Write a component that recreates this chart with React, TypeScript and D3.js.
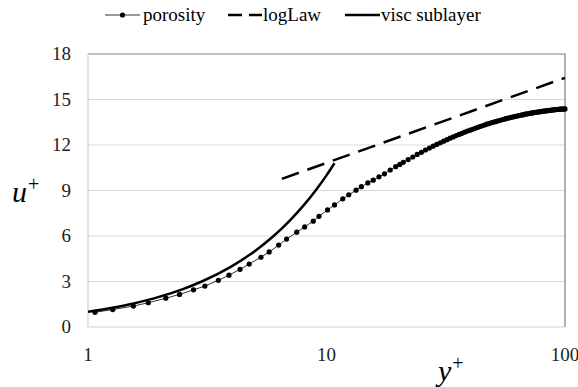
import React from "react";
import * as d3 from "d3";

// porosity profile
const porosityY = [
  1.07, 1.27, 1.55, 1.79, 2.12, 2.42, 2.77, 3.09, 3.52, 3.9, 4.34, 4.74, 5.31, 5.75, 6.3, 6.8,
  7.5, 8.1, 8.8, 9.3, 10.1, 10.8, 11.7, 12.4, 13.3, 14.0, 14.9, 15.7, 16.6, 17.5, 18.5, 19.5,
  20.3, 21, 22, 23, 24, 25, 26, 27, 28, 29, 30, 31, 32, 33, 34, 35, 36, 37, 38, 39, 40, 41, 42,
  43, 44, 45, 46, 47, 48, 49, 50, 51, 52, 53, 54, 55, 56, 57, 58, 59, 60, 61, 62, 63, 64, 65,
  66, 67, 68, 69, 70, 71, 72, 73, 74, 75, 76, 77, 78, 79, 80, 81, 82, 83, 84, 85, 86, 87, 88,
  89, 90, 91, 92, 93, 94, 95, 96, 97, 98, 99, 100,
];
const porosityU = [
  0.97, 1.15, 1.38, 1.6, 1.9, 2.15, 2.45, 2.7, 3.08, 3.42, 3.8, 4.15, 4.6, 4.95, 5.4, 5.8,
  6.25, 6.6, 6.98, 7.3, 7.72, 8.05, 8.45, 8.72, 9.02, 9.25, 9.5, 9.68, 9.9, 10.1, 10.35, 10.57,
  10.72, 10.86, 11.04, 11.21, 11.38, 11.52, 11.67, 11.8, 11.92, 12.04, 12.15, 12.25, 12.35, 12.45,
  12.53, 12.62, 12.7, 12.77, 12.85, 12.92, 12.98, 13.04, 13.1, 13.16, 13.22, 13.27, 13.32, 13.37,
  13.41, 13.46, 13.5, 13.54, 13.58, 13.61, 13.65, 13.68, 13.72, 13.75, 13.78, 13.81, 13.84, 13.86,
  13.89, 13.91, 13.94, 13.96, 13.98, 14.0, 14.03, 14.05, 14.06, 14.08, 14.1, 14.12, 14.13, 14.15,
  14.16, 14.18, 14.19, 14.2, 14.22, 14.23, 14.24, 14.25, 14.26, 14.27, 14.28, 14.29, 14.3, 14.31,
  14.32, 14.33, 14.34, 14.34, 14.35, 14.36, 14.36, 14.37, 14.37, 14.38, 14.38,
];
const logLawY = [6.5, 100];
const logLawU = [9.77, 16.43];
const viscY = [1, 1.5, 2, 2.5, 3, 4, 5, 6, 7, 8, 9, 10, 10.8];
const viscU = [1, 1.5, 2, 2.5, 3, 4, 5, 6, 7, 8, 9, 10, 10.8];

const yTicks = [0, 3, 6, 9, 12, 15, 18];
const xTicks = [1, 10, 100];

const W = 578;
const H = 387;
const left = 88, right = 565, top = 54, bottom = 327;

const FAMILY = "'Liberation Serif', Tinos, 'Times New Roman', serif";
const font = (size: number, extra: React.CSSProperties = {}): React.CSSProperties => ({
  fontFamily: FAMILY,
  fontSize: `${size}px`,
  ...extra,
});

type Pt = [number, number];

export default function App() {
  const x = d3.scaleLog().domain([1, 100]).range([left, right]);
  const y = d3.scaleLinear().domain([0, 18]).range([bottom, top]);

  const line = d3.line<Pt>().x(d => x(d[0])).y(d => y(d[1]));
  const smooth = d3.line<Pt>().x(d => x(d[0])).y(d => y(d[1])).curve(d3.curveMonotoneX);

  const porosity: Pt[] = porosityY.map((v, i) => [v, porosityU[i]]);
  const logLaw: Pt[] = logLawY.map((v, i) => [v, logLawU[i]]);
  const visc: Pt[] = viscY.map((v, i) => [v, viscU[i]]);

  const ly = 15;
  const legendText: [string, number][] = [["porosity", 143], ["logLaw", 263], ["visc sublayer", 381]];

  return (
    <svg width={W} height={H} style={{ position: "absolute", left: 0, top: 0, background: "#fff" }}>
      {/* grid */}
      {yTicks.filter(d => d > 0 && d < 18).map(d => (
        <line key={d} x1={left} x2={right} y1={y(d)} y2={y(d)} stroke="#d9d9d9" strokeWidth={1} />
      ))}
      <path d={`M${left},${top}H${right}V${bottom}`} fill="none" stroke="#7f7f7f" strokeWidth={1.2} />
      <path d={`M${left},${top}V${bottom}H${right}`} fill="none" stroke="#d0d0d0" strokeWidth={1.2} />

      {/* tick labels */}
      {yTicks.map(d => (
        <text key={d} x={71} y={y(d)} dy="0.34em" textAnchor="end" style={font(19, { fill: "#222" })}>
          {d}
        </text>
      ))}
      {xTicks.map(d => (
        <text key={d} x={x(d)} y={361} textAnchor="middle" style={font(19, { fill: "#222" })}>
          {d}
        </text>
      ))}

      {/* axis titles */}
      <text x={12} y={202} style={font(30, { fill: "#000" })}>
        <tspan style={{ fontStyle: "italic" }}>u</tspan>
        <tspan dx={1} dy={-11} style={{ fontSize: "20px" }}>+</tspan>
      </text>
      <text x={438} y={381} style={font(30, { fill: "#000" })}>
        <tspan style={{ fontStyle: "italic" }}>y</tspan>
        <tspan dx={1} dy={-11} style={{ fontSize: "20px" }}>+</tspan>
      </text>

      {/* series */}
      <path d={line(logLaw)!} fill="none" stroke="#000" strokeWidth={2.5} strokeDasharray="18 9" />
      <path d={smooth(visc)!} fill="none" stroke="#000" strokeWidth={2.5} />
      <path d={line(porosity)!} fill="none" stroke="#000" strokeWidth={0.8} />
      {porosity.map((d, i) => (
        <circle key={i} cx={x(d[0])} cy={y(d[1])} r={2.6} fill="#000" />
      ))}

      {/* legend */}
      <line x1={105} x2={140} y1={ly} y2={ly} stroke="#000" strokeWidth={0.8} />
      <circle cx={122.5} cy={ly} r={2.6} fill="#000" />
      <line x1={228} x2={262} y1={ly} y2={ly} stroke="#000" strokeWidth={2.5} strokeDasharray="14 7" />
      <line x1={345} x2={380} y1={ly} y2={ly} stroke="#000" strokeWidth={2.5} />
      {legendText.map(([t, lx]) => (
        <text key={t} x={lx} y={ly} dy="0.32em" style={font(19, { fill: "#000" })}>
          {t}
        </text>
      ))}
    </svg>
  );
}
